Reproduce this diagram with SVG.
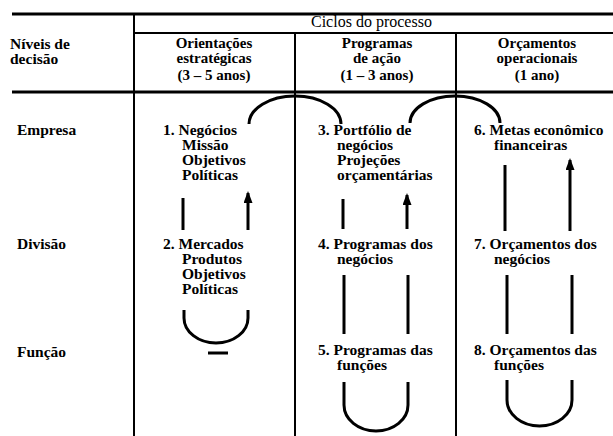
<svg xmlns="http://www.w3.org/2000/svg" width="613" height="436" viewBox="0 0 613 436">
<defs>
<style>
.t{font-family:"Liberation Serif","Times New Roman",serif;font-size:15.5px;font-weight:bold;fill:#000}
.h{font-family:"Liberation Serif","Times New Roman",serif;font-size:15px;font-weight:bold;fill:#000;text-anchor:middle}
.r{font-family:"Liberation Serif","Times New Roman",serif;font-size:16px;fill:#000}
.grid{stroke:#000;fill:none}
.c{stroke:#000;stroke-width:3;fill:none}
</style>
<marker id="ah" viewBox="0 0 12 9" refX="10" refY="4.5" markerWidth="4" markerHeight="3" orient="auto" markerUnits="strokeWidth">
<path d="M0,0 L12,4.5 L0,9 Z" fill="#000"/>
</marker>
</defs>
<rect width="613" height="436" fill="#fff"/>
<g id="table">
<line class="grid" x1="12" y1="14" x2="613" y2="14" stroke-width="3"/>
<line class="grid" x1="134" y1="33" x2="613" y2="33" stroke-width="2"/>
<line class="grid" x1="12" y1="92" x2="613" y2="92" stroke-width="3"/>
<line class="grid" x1="134" y1="14" x2="134" y2="436" stroke-width="2"/>
<line class="grid" x1="295" y1="33" x2="295" y2="436" stroke-width="2"/>
<line class="grid" x1="456" y1="33" x2="456" y2="436" stroke-width="2"/>
</g>
<g id="header">
<text class="r" x="311" y="27">Ciclos do processo</text>
<text class="t" y="49"><tspan x="10">Níveis de</tspan><tspan x="10" dy="15">decisão</tspan></text>
<text class="h" y="48"><tspan x="214">Orientações</tspan><tspan x="214" dy="15">estratégicas</tspan><tspan x="214" dy="17">(3 – 5 anos)</tspan></text>
<text class="h" y="48"><tspan x="377">Programas</tspan><tspan x="377" dy="15">de ação</tspan><tspan x="377" dy="17">(1 – 3 anos)</tspan></text>
<text class="h" y="48"><tspan x="537">Orçamentos</tspan><tspan x="537" dy="15">operacionais</tspan><tspan x="537" dy="17">(1 ano)</tspan></text>
</g>
<g id="levels">
<text class="t" x="17" y="135">Empresa</text>
<text class="t" x="17" y="249">Divisão</text>
<text class="t" x="17" y="357">Função</text>
</g>
<g id="n1">
<text class="t" y="135"><tspan x="163">1. Negócios</tspan><tspan x="182" dy="15">Missão</tspan><tspan x="182" dy="15">Objetivos</tspan><tspan x="182" dy="15">Políticas</tspan></text>
</g>
<g id="n2">
<text class="t" y="249"><tspan x="163">2. Mercados</tspan><tspan x="182" dy="15">Produtos</tspan><tspan x="182" dy="15">Objetivos</tspan><tspan x="182" dy="15">Políticas</tspan></text>
</g>
<g id="n3">
<text class="t" y="135"><tspan x="318">3. Portfólio de</tspan><tspan x="337" dy="15">negócios</tspan><tspan x="337" dy="15">Projeções</tspan><tspan x="337" dy="15">orçamentárias</tspan></text>
</g>
<g id="n4">
<text class="t" y="249"><tspan x="318">4. Programas dos</tspan><tspan x="337" dy="15">negócios</tspan></text>
</g>
<g id="n5">
<text class="t" y="355"><tspan x="318">5. Programas das</tspan><tspan x="337" dy="15">funções</tspan></text>
</g>
<g id="n6">
<text class="t" y="135"><tspan x="474">6. Metas econômico</tspan><tspan x="494" dy="15">financeiras</tspan></text>
</g>
<g id="n7">
<text class="t" y="249"><tspan x="474">7. Orçamentos dos</tspan><tspan x="494" dy="15">negócios</tspan></text>
</g>
<g id="n8">
<text class="t" y="355"><tspan x="474">8. Orçamentos das</tspan><tspan x="494" dy="15">funções</tspan></text>
</g>
<g id="connectors">
<path class="c" d="M249,124 A46,28 0 0 1 341,124"/>
<path class="c" d="M410,123 A45,27 0 0 1 500,123"/>
<line class="c" x1="183" y1="198" x2="183" y2="230"/>
<line class="c" x1="248" y1="230" x2="248" y2="193" marker-end="url(#ah)"/>
<path class="c" d="M184,310 V318 A32,25 0 0 0 248,318 V310"/>
<line class="c" x1="208" y1="353" x2="228" y2="353"/>
<line class="c" x1="343" y1="199" x2="343" y2="229"/>
<line class="c" x1="407" y1="229" x2="407" y2="195" marker-end="url(#ah)"/>
<line class="c" x1="344" y1="275" x2="344" y2="334"/>
<line class="c" x1="408" y1="275" x2="408" y2="334"/>
<path class="c" d="M344,382 V405 A32,26 0 0 0 408,405 V382"/>
<line class="c" x1="505" y1="165" x2="505" y2="231"/>
<line class="c" x1="570" y1="231" x2="570" y2="160" marker-end="url(#ah)"/>
<line class="c" x1="507" y1="275" x2="507" y2="334"/>
<line class="c" x1="572" y1="275" x2="572" y2="334"/>
<path class="c" d="M507,380 V400 A32.5,26 0 0 0 572,400 V380"/>
</g>
</svg>
